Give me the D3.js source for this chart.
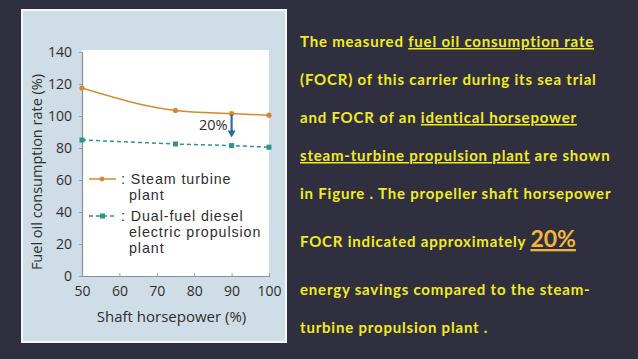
<!DOCTYPE html>
<html>
<head>
<meta charset="utf-8">
<script src="https://cdn.jsdelivr.net/npm/d3@7"></script>
<style>
  html, body { margin: 0; padding: 0; background: #302f40; }
  svg { display: block; }
</style>
</head>
<body>
<svg id="chart"></svg>
<script>
// data
const shaftHp = [50, 75, 90, 100]
const steamFocr = [117.5, 103.5, 101.5, 100.5]
const dualFuelFocr = [85, 82.5, 81.5, 80.5]
const xTicks = [50, 60, 70, 80, 90, 100]
const yTicks = [0, 20, 40, 60, 80, 100, 120, 140]
const savingAt = 90

// right-hand text lines, pieces with underline flag
const textLines = [
    [["The measured ", 0], ["fuel oil consumption rate", 1]],
    [["(FOCR) of this carrier during its sea trial", 0]],
    [["and FOCR of an ", 0], ["identical horsepower", 1]],
    [["steam-turbine propulsion plant", 1], [" are shown", 0]],
    [["in Figure . The propeller  shaft horsepower", 0]],
    [["FOCR indicated approximately ", 0], ["20%", 2]],
    [["energy savings compared to the steam-", 0]],
    [["turbine propulsion plant .", 0]],
]

const W = 638, H = 359
const svg = d3.select("#chart").attr("width", W).attr("height", H)

const chartFont = "'Open Sans', sans-serif"
// tighter line box so stacked legend lines don't collide
const legendFont = "'Liberation Sans', Arial, sans-serif"
const orange = "#d48a2e"
const teal = "#2a9688"
const ink = "#2e2e2e"

// panel behind the chart
svg.append("rect")
    .attr("x", 22).attr("y", 10)
    .attr("width", 264).attr("height", 332)
    .attr("fill", "#cfdde7")
    .attr("stroke", "#f4f7f9").attr("stroke-width", 2)

const plot = { left: 82, right: 269, top: 52, bottom: 276 }

const x = d3.scaleLinear().domain([50, 100]).range([plot.left, plot.right])
const y = d3.scaleLinear().domain([0, 140]).range([plot.bottom, plot.top])

// white plot area
svg.append("rect")
    .attr("x", plot.left).attr("y", y(140) - 2)
    .attr("width", plot.right - plot.left).attr("height", plot.bottom - y(140) + 2)
    .attr("fill", "white")

// axes
const yAxis = d3.axisLeft(y).tickValues(yTicks).tickSize(3).tickPadding(7)
const xAxis = d3.axisBottom(x).tickValues(xTicks).tickSize(-3).tickPadding(8)

const gy = svg.append("g").attr("transform", `translate(${plot.left},0)`).call(yAxis)
const gx = svg.append("g").attr("transform", `translate(0,${plot.bottom})`).call(xAxis)
for (let g of [gx, gy]) {
    g.select(".domain").attr("stroke", "#8a9098").attr("stroke-width", 1.2)
    g.selectAll(".tick line").attr("stroke", "#9aa0a8")
    g.selectAll(".tick text")
        .attr("fill", ink)
        .style("font-family", chartFont)
        .style("font-size", "14px")
}
gx.selectAll(".tick text").attr("dy", "0.85em")

// axis titles
svg.append("text")
    .attr("x", (plot.left + plot.right) / 2 - 4).attr("y", 322)
    .attr("text-anchor", "middle")
    .attr("fill", ink)
    .style("font-family", chartFont).style("font-size", "15px")
    .text("Shaft horsepower  (%)")
svg.append("text")
    .attr("transform", `translate(42,${(87 + 257) / 2}) rotate(-90)`)
    .attr("text-anchor", "middle")
    .attr("fill", ink)
    .style("font-family", chartFont).style("font-size", "14.5px")
    .text("Fuel oil consumption rate  (%)")

// series
const steamPts = shaftHp.map((d, i) => [d, steamFocr[i]])
const dualPts = shaftHp.map((d, i) => [d, dualFuelFocr[i]])
const line = d3.line().x(d => x(d[0])).y(d => y(d[1])).curve(d3.curveMonotoneX)

svg.append("path").datum(steamPts)
    .attr("d", line).attr("fill", "none")
    .attr("stroke", orange).attr("stroke-width", 1.5)
svg.append("path").datum(dualPts)
    .attr("d", d3.line().x(d => x(d[0])).y(d => y(d[1])))
    .attr("fill", "none")
    .attr("stroke", teal).attr("stroke-width", 1.5)
    .attr("stroke-dasharray", "4,3")

svg.selectAll(".steamDot").data(steamPts).enter().append("circle")
    .attr("cx", d => x(d[0])).attr("cy", d => y(d[1])).attr("r", 2.6)
    .attr("fill", orange)
svg.selectAll(".dualDot").data(dualPts).enter().append("rect")
    .attr("x", d => x(d[0]) - 2.5).attr("y", d => y(d[1]) - 2.5)
    .attr("width", 5).attr("height", 5)
    .attr("fill", teal)

// 20% arrow between the two lines
const si = shaftHp.indexOf(savingAt)
const ax = x(savingAt)
const aTop = y(steamFocr[si]) + 1
const aBot = y(dualFuelFocr[si]) - 8
svg.append("line")
    .attr("x1", ax).attr("x2", ax)
    .attr("y1", aTop).attr("y2", aBot - 5)
    .attr("stroke", "#2a6aa8").attr("stroke-width", 2.2)
svg.append("path")
    .attr("d", `M${ax - 4},${aBot - 7} L${ax + 4},${aBot - 7} L${ax},${aBot} Z`)
    .attr("fill", "#2a6aa8")
svg.append("text")
    .attr("x", ax - 4).attr("y", 130)
    .attr("text-anchor", "end")
    .attr("fill", ink)
    .style("font-family", chartFont).style("font-size", "14.5px")
    .text("20%")

// legend
const legend = [
    { color: orange, dash: null, marker: "circle", lines: [": Steam turbine", "plant"], y: 179 },
    { color: teal, dash: "4,3", marker: "rect", lines: [": Dual-fuel diesel", "electric propulsion", "plant"], y: 216 },
]
for (let l of legend) {
    const g = svg.append("g")
    g.append("line")
        .attr("x1", 89).attr("x2", 116).attr("y1", l.y).attr("y2", l.y)
        .attr("stroke", l.color).attr("stroke-width", 1.5)
        .attr("stroke-dasharray", l.dash)
    if (l.marker == "circle") {
        g.append("circle").attr("cx", 102).attr("cy", l.y).attr("r", 2.4).attr("fill", l.color)
    } else {
        g.append("rect").attr("x", 100).attr("y", l.y - 2.5).attr("width", 5).attr("height", 5).attr("fill", l.color)
    }
    l.lines.forEach((s, i) => {
        g.append("text")
            .attr("x", i == 0 ? 121 : 129)
            .attr("y", l.y + 5 + i * 16)
            .attr("fill", ink)
            .style("font-family", legendFont).style("font-size", "14.3px")
            .style("letter-spacing", "0.9px")
            .text(s)
    })
}

// right-hand description
const bodyFont = "Lato, sans-serif"
const baselines = [47, 85, 123, 161, 199, 247, 295, 333]
textLines.forEach((pieces, i) => {
    const t = svg.append("text")
        .attr("x", 300).attr("y", baselines[i])
        .style("font-family", bodyFont).style("font-weight", "bold")
        .style("font-size", "15px")
        .style("letter-spacing", "0.8px")
        .attr("fill", "#f0ec22")
    for (let [s, u] of pieces) {
        const ts = t.append("tspan").text(s)
        if (u) ts.style("text-decoration", "underline")
        if (u == 2) ts.style("font-size", "23px").style("letter-spacing", "0px").attr("fill", "#f0b63a")
    }
})
</script>
</body>
</html>
